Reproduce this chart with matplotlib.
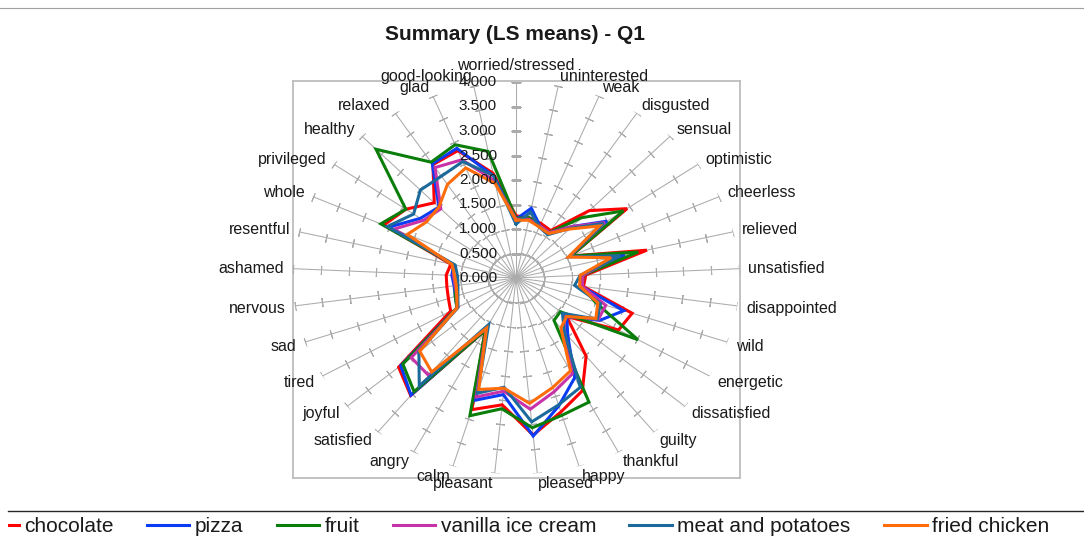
import numpy as np
import matplotlib
matplotlib.use('Agg')
import matplotlib.pyplot as plt
from matplotlib.lines import Line2D
from matplotlib.patches import Rectangle

plt.rcParams['font.family'] = ['Liberation Sans', 'DejaVu Sans']

# ---------------- data ----------------
categories = ['worried/stressed', 'uninterested', 'weak', 'disgusted', 'sensual',
              'optimistic', 'cheerless', 'relieved', 'unsatisfied', 'disappointed',
              'wild', 'energetic', 'dissatisfied', 'guilty', 'thankful', 'happy',
              'pleased', 'pleasant', 'calm', 'angry', 'satisfied', 'joyful', 'tired',
              'sad', 'nervous', 'ashamed', 'resentful', 'whole', 'privileged',
              'healthy', 'relaxed', 'glad', 'good-looking']

series_names = ['chocolate', 'pizza', 'fruit', 'vanilla ice cream',
                'meat and potatoes', 'fried chicken']

chocolate = [1.27, 1.25, 1.20, 1.15, 1.90, 2.44, 1.08, 2.41, 1.25, 1.22, 2.20,
             2.12, 1.20, 2.03, 2.59, 2.85, 3.22, 2.60, 2.80, 1.20, 3.05, 2.78,
             1.35, 1.28, 1.25, 1.25, 1.20, 2.60, 2.42, 2.12, 2.75, 2.80, 2.18]
pizza = [1.20, 1.45, 1.15, 1.08, 1.45, 2.00, 1.06, 2.00, 1.20, 1.18, 2.04,
         1.73, 1.20, 1.50, 2.29, 2.72, 3.24, 2.39, 2.60, 1.18, 3.04, 2.73,
         1.22, 1.15, 1.12, 1.15, 1.15, 2.50, 2.10, 2.00, 2.77, 2.85, 2.12]
fruit = [1.22, 1.25, 1.15, 1.10, 1.70, 2.36, 1.08, 2.25, 1.20, 1.20, 1.50,
         2.52, 1.05, 1.10, 2.85, 2.92, 3.07, 2.68, 2.93, 1.20, 2.95, 2.68,
         1.22, 1.15, 1.10, 1.12, 1.15, 2.66, 2.42, 3.63, 2.81, 2.93, 2.63]
vanilla_ice_cream = [1.20, 1.22, 1.15, 1.10, 1.45, 1.95, 1.05, 1.88, 1.20, 1.20,
                     1.70, 1.70, 1.15, 1.40, 2.20, 2.42, 2.69, 2.32, 2.53, 1.15,
                     2.53, 2.48, 1.20, 1.12, 1.10, 1.12, 1.15, 2.40, 2.03, 1.95,
                     2.68, 2.60, 2.02]
meat_and_potatoes = [1.10, 1.37, 1.12, 1.05, 1.40, 1.92, 1.04, 1.92, 1.15, 1.06,
                     1.60, 1.68, 1.10, 1.40, 2.51, 2.70, 2.95, 2.24, 2.45, 1.07,
                     2.80, 2.30, 1.20, 1.10, 1.05, 1.05, 1.12, 2.53, 2.25, 2.48,
                     2.47, 2.56, 2.13]
fried_chicken = [1.18, 1.20, 1.12, 1.08, 1.38, 1.83, 1.03, 1.75, 1.15, 1.15,
                 1.55, 1.65, 1.20, 1.30, 2.13, 2.33, 2.57, 2.26, 2.37, 1.15,
                 2.44, 2.28, 1.22, 1.12, 1.08, 1.10, 1.18, 2.14, 1.97, 2.00,
                 2.27, 2.42, 1.96]

radial_ticks = [0.0, 0.5, 1.0, 1.5, 2.0, 2.5, 3.0, 3.5, 4.0]
radial_labels = ['0.000', '0.500', '1.000', '1.500', '2.000', '2.500',
                 '3.000', '3.500', '4.000']

all_series = [chocolate, pizza, fruit, vanilla_ice_cream, meat_and_potatoes, fried_chicken]
colors = ['#ff0000', '#0a3cf5', '#0a7d0a', '#c832a8', '#1c6a9c', '#ff6c0a']

# ---------------- figure ----------------
W, H = 1084, 541
fig = plt.figure(figsize=(W / 100, H / 100), dpi=100)
fig.patch.set_facecolor('white')


def fx(px):
    return px / W


def fy(py):
    return 1 - py / H


text_c = '#1a1a1a'
grid_c = '#ababab'

# plot-area frame
frame_ax = fig.add_axes([fx(293), fy(478), fx(740) - fx(293), fy(81) - fy(478)])
frame_ax.set_xticks([])
frame_ax.set_yticks([])
for s in frame_ax.spines.values():
    s.set_color('#bdbdbd')
    s.set_linewidth(1.3)
frame_ax.patch.set_alpha(0)

# radar axes (elliptical)
L, R, T, B = 292.5, 739.5, 82, 474
ax = fig.add_axes([fx(L), fy(B), (R - L) / W, (B - T) / H], projection='polar')
ax.set_aspect('auto')
ax.set_theta_zero_location('N')
ax.set_theta_direction(-1)
ax.set_ylim(0, 4)
ax.grid(False)
ax.spines['polar'].set_visible(False)
ax.set_xticks([])
ax.set_yticks([])
ax.patch.set_alpha(0)

N = len(categories)
theta = np.linspace(0, 2 * np.pi, N, endpoint=False)
rx = (R - L) / 2
ry = (B - T) / 2
tick_r = np.array(radial_ticks[1:])

for t in theta:
    ax.plot([t, t], [0, 4], color=grid_c, lw=0.75, zorder=1)
    ang = np.degrees(np.arctan2(ry * np.cos(t), rx * np.sin(t)))
    tl, = ax.plot(np.full_like(tick_r, t), tick_r, ls='none', marker=(2, 2, ang),
                  ms=6.5, mec=grid_c, mew=0.75, zorder=1)
    tl.set_snap(False)

# data series
for i, (vals, col) in enumerate(zip(all_series, colors)):
    v = np.asarray(vals, dtype=float)
    ax.plot(np.append(theta, theta[0]), np.append(v, v[0]), color=col, lw=2.2,
            zorder=3 + i, solid_joinstyle='miter')

# radial tick labels on the top spoke
for r, lab in zip(radial_ticks, radial_labels):
    ax.annotate(lab, xy=(0, r), xytext=(-19, 0), textcoords='offset pixels',
                ha='right', va='center', fontsize=11, color=text_c,
                zorder=20, annotation_clip=False)

# category labels
for t, lab in zip(theta, categories):
    s, c = np.sin(t), np.cos(t)
    if abs(s) < 1e-6:
        ha, off = 'center', (0, 17)
    else:
        ha = 'left' if s > 0 else 'right'
        off = (9 * s, 9 * c - (1.5 if c < 0 else 0))
    ax.annotate(lab, xy=(t, 4), xytext=off, textcoords='offset pixels',
                ha=ha, va='center', fontsize=11.5, color=text_c,
                zorder=20, annotation_clip=False)

# title
fig.text(fx(515), fy(35), 'Summary (LS means) - Q1', ha='center', va='center',
         fontsize=15, fontweight='bold', color=text_c)

# separator lines
fig.add_artist(Line2D([0, 1], [fy(8), fy(8)], color='#a0a0a0', lw=0.8))
fig.add_artist(Line2D([fx(8), 1], [fy(511), fy(511)], color='#262626', lw=1.0))

# legend
handles = [Line2D([], [], color=col, lw=2.2) for col in colors]
leg = fig.legend(handles, series_names, loc='center left',
                 bbox_to_anchor=(fx(-24), fy(527)), ncol=6, frameon=False,
                 fontsize=15, handlelength=2.05, handletextpad=0.25,
                 columnspacing=1.6, borderpad=0, borderaxespad=0)
for txt in leg.get_texts():
    txt.set_color(text_c)

fig.add_artist(Rectangle((0, 0), fx(8), fy(512), transform=fig.transFigure,
                         facecolor='white', edgecolor='none', zorder=10))

fig.savefig('out.png', dpi=100)
